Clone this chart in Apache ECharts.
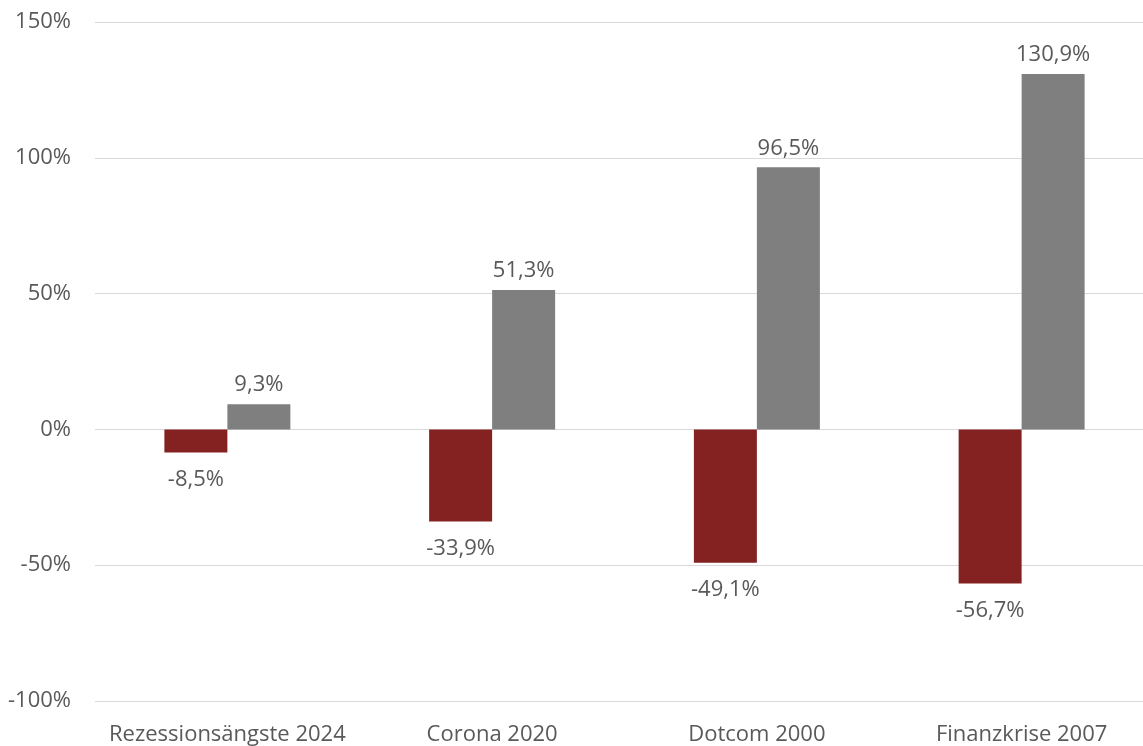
<!DOCTYPE html>
<html>
<head>
<meta charset="utf-8">
<script src="https://cdn.jsdelivr.net/npm/echarts@6/dist/echarts.min.js"></script>
<style>
html,body{margin:0;padding:0;background:#fff;overflow:hidden;width:1143px;height:746px;}
#chart{width:1154px;height:746px;}
</style>
</head>
<body>
<div id="chart"></div>
<script>
const categories = ['Rezessionsängste 2024', 'Corona 2020', 'Dotcom 2000', 'Finanzkrise 2007'];
const drawdown = [-8.5, -33.9, -49.1, -56.7];
const recovery = [9.3, 51.3, 96.5, 130.9];

const fmt = v => v.toFixed(1).replace('.', ',') + '%';
const textColor = '#595959';
const font = 'Open Sans';

function toData(arr) {
  return arr.map(v => ({
    value: v,
    label: { position: v < 0 ? 'bottom' : 'top', distance: v < 0 ? 16 : 8 }
  }));
}

const chart = echarts.init(document.getElementById('chart'), null, { renderer: 'canvas' });
chart.setOption({
  animation: false,
  textStyle: { fontFamily: font },
  grid: { left: 95, right: 0, top: 22, bottom: 44, containLabel: false },
  xAxis: {
    type: 'category',
    data: categories,
    axisLine: { show: false },
    axisTick: { show: false },
    axisLabel: { color: textColor, fontSize: 22, fontFamily: font, margin: 23, interval: 0 }
  },
  yAxis: {
    type: 'value',
    min: -100, max: 150, interval: 50,
    axisLine: { show: false },
    axisTick: { show: false },
    axisLabel: { color: textColor, fontSize: 22, fontFamily: font, margin: 24, formatter: v => v + '%' },
    splitLine: { lineStyle: { color: '#d9d9d9', width: 1 } }
  },
  series: [
    {
      type: 'bar', name: 'Drawdown', data: toData(drawdown),
      barWidth: 63, barGap: '0%',
      itemStyle: { color: '#832220' },
      label: { show: true, color: textColor, fontSize: 22, fontFamily: font, formatter: p => fmt(p.value) }
    },
    {
      type: 'bar', name: 'Recovery', data: toData(recovery),
      barWidth: 63, barGap: '0%',
      itemStyle: { color: '#7f7f7f' },
      label: { show: true, color: textColor, fontSize: 22, fontFamily: font, formatter: p => fmt(p.value) }
    }
  ]
});
</script>
</body>
</html>
